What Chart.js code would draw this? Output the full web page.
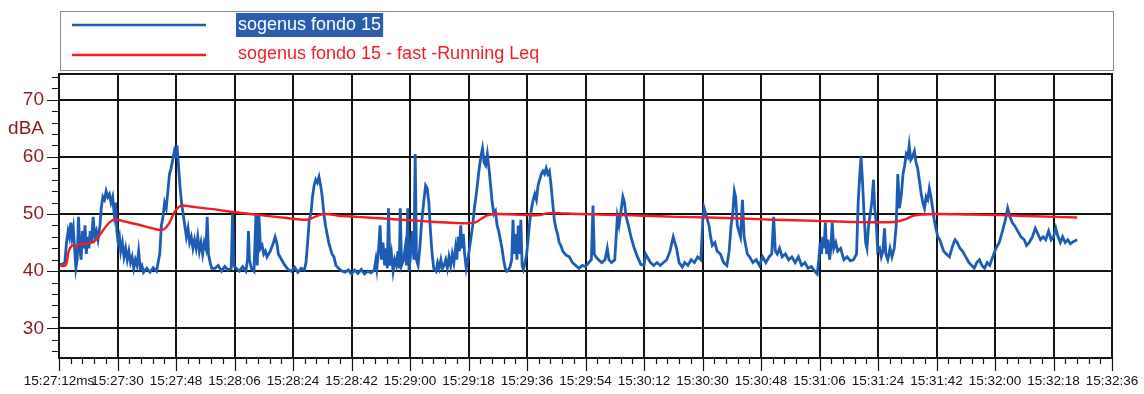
<!DOCTYPE html>
<html>
<head>
<meta charset="utf-8">
<script src="https://cdn.jsdelivr.net/npm/chart.js@4"></script>
<style>
  body { margin: 0; background: #fff; }
  #grafico { display: block; }
</style>
</head>
<body>
<canvas id="grafico" width="1144" height="394"></canvas>
<script>
// Etichette asse tempo (una ogni 18 s, a partire da 15:27:12)
const etichetteX = ['15:27:12ms', '15:27:30', '15:27:48', '15:28:06', '15:28:24', '15:28:42',
    '15:29:00', '15:29:18', '15:29:36', '15:29:54', '15:30:12', '15:30:30', '15:30:48',
    '15:31:06', '15:31:24', '15:31:42', '15:32:00', '15:32:18', '15:32:36'];
const passoX = 18;       // secondi tra due etichette
const tacchePerPasso = 5; // tacche secondarie

const valoriY = [30, 40, 50, 60, 70];
const unitaY = 'dBA';

// sogenus fondo 15 (secondi dall'inizio, dBA)
const tempiBlu = [0, 1, 1.8, 2.3, 2.8, 3.2, 3.6, 4.0, 4.4, 4.8, 5.2, 5.6, 6.0, 6.4, 6.8, 7.2, 7.6, 8.0, 8.4, 8.8,
    9.2, 9.6, 10.0, 10.5, 11.0, 11.5, 12.0, 12.6, 13.0, 13.5, 14.0, 14.5, 15.0, 15.5, 16.0, 16.5, 17.0, 17.4, 17.8, 18.2,
    18.6, 19.0, 19.5, 20.0, 20.5, 21.0, 21.5, 22.0, 22.5, 23.0, 23.5, 24.0, 24.5, 25.0, 25.5, 26.0, 27, 28, 29, 30,
    30.5, 31, 31.5, 32, 32.5, 33, 33.5, 34, 34.5, 35, 35.5, 36, 36.3, 36.7, 37.2, 37.7, 38.2, 38.7, 39.2, 39.7,
    40.2, 40.7, 41.2, 41.7, 42.2, 42.7, 43.2, 43.7, 44.2, 44.7, 45.2, 45.6, 46, 46.5, 47.0, 48, 49, 50, 51, 52,
    53, 53.4, 53.8, 54.5, 55.5, 56.5, 57.5, 58.0, 58.3, 58.6, 59.2, 60.0, 60.6, 61.0, 61.5, 62, 62.5, 63, 63.5, 64,
    65, 66, 66.5, 67, 67.5, 68.5, 69.5, 70.5, 71.5, 72.5, 73.5, 74.5, 75.5, 76, 76.5, 77, 77.5, 78, 78.5, 79,
    79.5, 80, 80.5, 81, 81.5, 82, 82.5, 83, 83.5, 84, 84.6, 85.2, 86, 87, 88, 89, 90, 91, 92, 93,
    94, 95, 96, 97, 97.5, 97.8, 98.3, 98.8, 99.2, 99.7, 100.2, 100.6, 101.0, 101.4, 101.8, 102.3, 102.8, 103.3, 103.8, 104.3,
    104.7, 105.0, 105.4, 106, 106.5, 106.9, 107.3, 107.7, 108.2, 108.7, 109.2, 109.6, 110.0, 110.5, 111, 111.5, 112.2, 112.8, 113.3, 113.8,
    114.3, 114.8, 115.3, 116, 116.5, 117, 117.5, 118, 118.5, 119, 119.5, 120, 120.5, 121, 121.5, 122, 122.4, 122.8, 123.2, 123.6,
    124, 124.4, 124.8, 125.3, 125.8, 126.3, 126.8, 127.3, 127.8, 128.3, 128.8, 129.3, 129.8, 130.3, 130.8, 131.3, 131.8, 132.3, 132.8, 133.3,
    133.8, 134.3, 134.8, 135.3, 135.8, 136.3, 136.8, 137.3, 137.8, 138.3, 138.8, 139.3, 139.7, 140.1, 140.5, 140.9, 141.3, 141.7, 142.1, 142.5,
    142.9, 143.4, 143.9, 144.4, 144.9, 145.4, 145.9, 146.4, 146.9, 147.4, 147.9, 148.4, 148.9, 149.4, 149.9, 150.4, 150.9, 151.4, 151.9, 152.4,
    152.9, 153.4, 153.9, 154.4, 155, 156, 157, 158, 159, 160, 161, 162, 163, 163.8, 164.3, 164.7, 165.2, 166, 167, 168,
    168.7, 169.2, 170, 171, 171.8, 172.3, 172.8, 173.5, 174.0, 174.5, 175.2, 176, 177, 178, 179, 180, 180.5, 181, 182, 183,
    184, 185, 186, 187, 188, 189, 190, 190.8, 191.8, 192.5, 193.5, 194.5, 195.5, 196.5, 197.5, 198.1, 198.5, 199.0, 199.5, 200,
    200.5, 201, 201.8, 202.5, 203.5, 204.5, 205.5, 206.2, 206.8, 207.3, 207.8, 208.2, 208.7, 209.2, 209.7, 210.3, 210.8, 211.3, 211.8, 212.5,
    213.5, 214.5, 215.5, 216.5, 217.5, 218.5, 219.3, 219.9, 220.4, 221, 221.7, 222.5, 223.5, 224.5, 225.5, 226.5, 227.5, 228.5, 229.5, 230.5,
    231.5, 232.5, 233.3, 233.8, 234.2, 234.6, 235, 235.4, 235.8, 236.2, 236.6, 237.1, 237.5, 237.9, 238.4, 239, 239.6, 240.5, 241.5, 242.5,
    243.5, 244.5, 245.4, 245.9, 246.4, 246.8, 247.2, 247.7, 248.2, 248.6, 249.1, 249.6, 250.1, 250.6, 251.0, 251.5, 251.9, 252.5, 253.0, 253.5,
    254.0, 254.4, 255, 255.7, 256.3, 257, 257.6, 258.1, 258.6, 259.2, 259.7, 260.2, 260.7, 261.2, 261.6, 262.1, 262.6, 263.2, 263.7, 264.2,
    264.7, 265.3, 265.8, 266.3, 266.8, 267.3, 267.8, 268.3, 268.8, 269.3, 269.8, 270.4, 271, 271.6, 272.2, 273, 274, 275, 275.7, 276.4,
    277.2, 278, 279, 280, 280.8, 281.6, 282.4, 283.2, 284, 284.8, 285.6, 286.4, 287.3, 288.3, 289.3, 290.3, 291.2, 291.9, 292.6, 293.3,
    294, 295, 296, 297, 297.7, 298.5, 299.5, 300.4, 301.2, 302, 302.8, 303.6, 304.5, 305.3, 306, 306.7, 307.4, 308.1, 308.8, 309.6,
    310.4, 311.2, 312.2, 313.3];
const livelliBlu = [41.2, 41.2, 41.5, 45, 47, 46, 48.5, 46, 47.5, 44, 40.5, 42, 49.5, 44, 42, 47, 44, 48, 43, 46,
    44, 47, 45, 49.5, 46, 47, 45.5, 48, 51, 53, 52.5, 54, 53, 53.5, 52, 53, 50, 52, 47, 45,
    46, 43.5, 45, 42.5, 44, 42, 43.5, 41.5, 42.5, 40.5, 42, 41, 43.5, 40.5, 41, 39.8, 40.5, 39.8, 40.6, 40,
    41.5, 43, 48, 49.5, 52, 51, 54, 57, 58, 59.5, 61, 60, 62, 59, 55, 52, 50, 48, 46, 47.5,
    45, 46, 44, 45.5, 44, 46, 43.5, 45, 43, 45, 44, 49.5, 43, 41.5, 40.5, 40.5, 41, 40, 40.8, 40.2,
    40.5, 50, 41, 40.5, 40, 40.8, 40, 42, 47, 42, 40.5, 40, 50, 41, 50, 44, 44.5, 43, 43.5, 42.5,
    43.5, 45, 46, 45, 43, 42, 41, 40.3, 40, 40.7, 39.8, 40.5, 40.2, 41.5, 45, 49, 50, 53, 55, 56,
    55.5, 56.5, 55, 53, 50, 48, 46.5, 45, 44, 43, 42.5, 41, 40.5, 40, 39.8, 40.2, 39.5, 40.2, 39.6, 40.3,
    39.5, 40, 39.7, 40.2, 42, 40.5, 43.5, 48, 42, 45, 41, 44, 40.5, 51, 41, 43, 40, 42, 41, 43.5,
    40.5, 51, 41, 42, 44, 41, 51, 40, 43, 47, 42, 60.5, 42, 41, 44, 48, 52, 55, 54.5, 52,
    47, 43, 40.5, 40, 41.5, 40.5, 42, 40.5, 41, 42, 40.5, 42.5, 41, 43, 41.5, 44, 42, 46, 43.5, 48,
    44, 46.5, 43, 40.5, 42, 44, 46, 48, 51, 53, 55.5, 58, 60, 61.5, 59, 58.5, 60.5, 58, 55, 52,
    50, 50.5, 48, 47, 45.5, 44, 42, 40.5, 40, 40.2, 40.8, 42, 49, 43, 46.5, 42, 48, 43, 49, 41,
    40.3, 41.5, 43, 46, 49, 51, 52.5, 53.5, 52.5, 55, 56, 57, 57.5, 57, 58, 57, 57.5, 55, 52, 49,
    47.5, 46.5, 45, 44.5, 43.5, 42.8, 42.5, 41.5, 41, 40.5, 41, 40.8, 41.5, 42, 51.5, 43, 42.5, 42, 41.5, 42,
    44, 42, 41.5, 42, 49.5, 48, 50, 53, 52, 49.5, 48, 46, 44, 42.5, 41.2, 41, 43, 42.5, 41.5, 41,
    41.5, 41, 41.5, 42, 43.5, 46, 44, 41.5, 40.7, 41.5, 41, 42, 41.5, 42.5, 42, 49, 51, 50, 49, 48,
    46, 44.5, 45, 43.5, 43, 41.5, 41, 43.5, 48, 50, 54, 53, 48, 47, 46, 52.5, 46, 44.5, 43, 42.5,
    41.5, 42, 41, 42.5, 41.5, 42.5, 43, 49.5, 43.5, 43, 44, 42.5, 43, 42, 42.5, 41.5, 42.5, 41, 41.5, 40.5,
    40.8, 40, 39.5, 42, 45, 43, 46, 44, 48.5, 43, 45.5, 42, 44, 48.5, 44, 45, 43.5, 44, 42, 42.5,
    41.8, 42, 43, 52, 57, 60, 56, 50, 45, 44, 48, 50, 52, 56, 51, 48, 43.5, 44, 42.5, 43.5,
    47.5, 43, 42, 44, 42.5, 44, 48, 57, 51, 53.5, 57, 58.5, 60.5, 60, 62, 59.5, 60, 61, 59, 58,
    56, 53.5, 52, 51, 53, 52.5, 54.5, 53, 51, 49, 47.5, 46, 45.5, 44.5, 43.5, 43, 42.5, 44.5, 45.5, 45,
    44, 43.5, 42.5, 41.5, 41, 40.5, 41.5, 42, 41, 40.5, 41.5, 41, 42.5, 44, 45, 47, 49, 51, 49.5, 48.5,
    48, 47, 46, 45.5, 44.5, 45, 46, 47.5, 46.5, 45.5, 46, 45.5, 47, 45.5, 46, 47.5, 46, 45, 46, 45,
    45.5, 44.8, 45.2, 45.5];

// sogenus fondo 15 - fast - Running Leq
const tempiLeq = [0, 2, 3, 4, 5, 6, 8, 10, 11, 12.5, 14, 15.5, 17, 18, 20, 24, 28, 31, 32.5, 34,
    35.5, 37, 38, 42, 48, 54, 62, 70, 76, 77.5, 80, 82, 86, 92, 100, 108, 116, 123, 128, 130,
    132, 135, 144, 148, 150, 152, 160, 172, 180, 190, 200, 210, 220, 233, 245, 257, 260, 263, 266, 270,
    280, 290, 300, 313.3];
const livelliLeq = [41, 41, 43.5, 44.5, 44.3, 44.6, 44.8, 45, 45.3, 46.3, 47.5, 48.5, 49, 49, 48.7, 48.2, 47.6, 47.2, 47.4, 48.5,
    50.3, 51.3, 51.5, 51.2, 50.8, 50.3, 49.8, 49.3, 49, 49.2, 49.8, 50, 49.7, 49.5, 49.2, 48.9, 48.6, 48.4, 48.5, 49.2,
    49.8, 50, 49.8, 49.8, 50.1, 50.2, 50, 49.8, 49.7, 49.5, 49.4, 49.2, 49.0, 48.8, 48.6, 48.6, 49, 49.7, 49.9, 50,
    49.9, 49.8, 49.6, 49.4];

const coloreBlu = '#1c5cb5';
const coloreRosso = '#f21c24';
const coloreGriglia = '#141414';
const coloreAsseY = '#8c1c1c';

function punti(tempi, livelli) {
    return tempi.map((t, i) => ({ x: t, y: livelli[i] }));
}

// riquadro assi, tacche secondarie e legenda
const decorazioni = {
    id: 'decorazioni',
    afterDraw(chart) {
        const ctx = chart.ctx;
        const area = chart.chartArea;
        const sx = chart.scales.x;
        const sy = chart.scales.y;

        ctx.save();
        ctx.strokeStyle = coloreGriglia;
        ctx.lineWidth = 2;
        ctx.strokeRect(area.left, area.top, area.right - area.left, area.bottom - area.top);

        // tacche asse Y ogni 2 dB
        ctx.lineWidth = 1.2;
        ctx.beginPath();
        for (let v = 26; v <= 74; v += 2) {
            const y = Math.round(sy.getPixelForValue(v)) + 0.5;
            const lung = v % 10 === 0 ? 12 : 7;
            ctx.moveTo(area.left - lung, y);
            ctx.lineTo(area.left, y);
        }
        // tacche asse X
        const n = (etichetteX.length - 1) * tacchePerPasso;
        for (let i = 0; i <= n; i++) {
            const x = Math.round(sx.getPixelForValue(i * passoX / tacchePerPasso)) + 0.5;
            const lung = i % tacchePerPasso === 0 ? 13 : 6;
            ctx.moveTo(x, area.bottom);
            ctx.lineTo(x, area.bottom + lung);
        }
        ctx.stroke();

        // legenda
        const dsBlu = chart.data.datasets[0];
        const dsRosso = chart.data.datasets[1];
        ctx.strokeStyle = '#8a8a8a';
        ctx.lineWidth = 1;
        ctx.strokeRect(60.5, 11.5, 1053, 59);

        ctx.lineWidth = 2.5;
        ctx.strokeStyle = dsBlu.borderColor;
        ctx.beginPath();
        ctx.moveTo(72, 25);
        ctx.lineTo(206, 25);
        ctx.stroke();
        ctx.strokeStyle = dsRosso.borderColor;
        ctx.beginPath();
        ctx.moveTo(72, 55);
        ctx.lineTo(206, 55);
        ctx.stroke();

        ctx.font = '18px "Liberation Sans", Arial, sans-serif';
        ctx.textBaseline = 'middle';
        const w = ctx.measureText(dsBlu.label).width;
        ctx.fillStyle = '#2a5dab';
        ctx.fillRect(236, 13, w + 4, 24);
        ctx.fillStyle = '#fff';
        ctx.fillText(dsBlu.label, 238, 25);
        ctx.fillStyle = dsRosso.borderColor;
        ctx.fillText(dsRosso.label, 238, 54);
        ctx.restore();
    }
};

const ctx = document.getElementById('grafico').getContext('2d');

new Chart(ctx, {
    type: 'line',
    data: {
        datasets: [
            {
                label: 'sogenus fondo 15',
                data: punti(tempiBlu, livelliBlu),
                borderColor: coloreBlu,
                borderWidth: 2.8,
                pointRadius: 0,
                tension: 0,
                order: 2
            },
            {
                label: 'sogenus fondo 15 - fast -Running Leq',
                data: punti(tempiLeq, livelliLeq),
                borderColor: coloreRosso,
                borderWidth: 2.4,
                pointRadius: 0,
                tension: 0.3,
                order: 1
            }
        ]
    },
    options: {
        responsive: false,
        devicePixelRatio: 1,
        animation: false,
        layout: { padding: { top: 74, right: 32, left: 0, bottom: 0 } },
        plugins: {
            legend: { display: false },
            tooltip: { enabled: false }
        },
        scales: {
            x: {
                type: 'linear',
                min: 0,
                max: (etichetteX.length - 1) * passoX,
                afterFit: s => {
                    s.height = 36;
                    s.paddingLeft = 0;
                    s.paddingRight = 0;
                },
                afterBuildTicks: s => {
                    s.ticks = etichetteX.map((_, i) => ({ value: i * passoX }));
                },
                grid: { color: coloreGriglia, lineWidth: 2, drawTicks: false },
                border: { color: coloreGriglia, width: 2 },
                ticks: {
                    autoSkip: false,
                    maxRotation: 0,
                    padding: 15,
                    color: '#111',
                    font: { family: '"Liberation Sans", Arial, sans-serif', size: 13.5 },
                    callback: (v, i) => etichetteX[i]
                }
            },
            y: {
                min: 24.8,
                max: 74.5,
                afterFit: s => { s.width = 59; },
                afterBuildTicks: s => {
                    const t = valoriY.map(v => ({ value: v }));
                    t.splice(4, 0, { value: 65 });
                    s.ticks = t;
                },
                grid: {
                    color: c => c.tick && c.tick.value === 65 ? 'rgba(0,0,0,0)' : coloreGriglia,
                    lineWidth: 2,
                    drawTicks: false
                },
                border: { color: coloreGriglia, width: 2 },
                ticks: {
                    padding: 15,
                    color: coloreAsseY,
                    font: { family: '"Liberation Sans", Arial, sans-serif', size: 19 },
                    callback: v => v === 65 ? unitaY : v
                }
            }
        }
    },
    plugins: [decorazioni]
});
</script>
</body>
</html>
